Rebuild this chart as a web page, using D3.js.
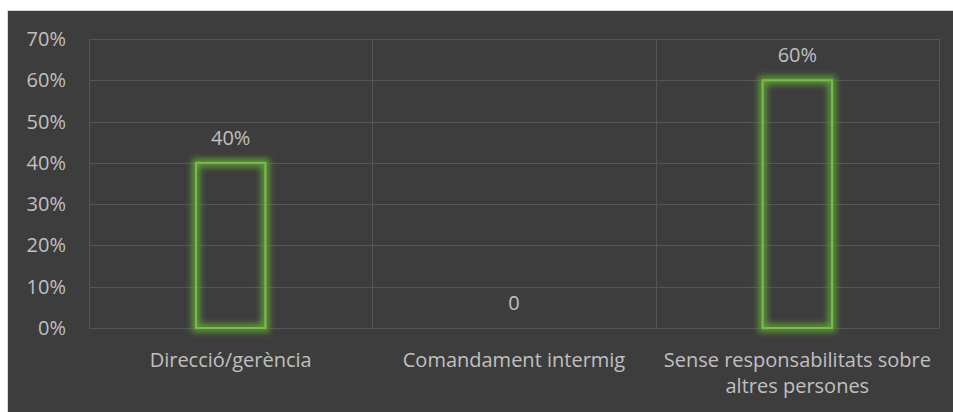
<!DOCTYPE html>
<html>
<head>
<meta charset="utf-8">
<script src="https://d3js.org/d3.v7.min.js"></script>
<style>
  body { margin: 0; background: #ffffff; }
  svg text { font-family: "Open Sans", "Noto Sans", sans-serif; fill: #c0c0c0; }
</style>
</head>
<body>
<svg id="chart" width="953" height="412"></svg>
<script>
// data
var categories = ["Direcció/gerència", "Comandament intermig", "Sense responsabilitats sobre altres persones"];
var values = [0.40, 0, 0.60];
var valueLabels = ["40%", "0", "60%"];
var yTicks = [0, 0.1, 0.2, 0.3, 0.4, 0.5, 0.6, 0.7];

var svg = d3.select("#chart");

/* dark panel */
svg.append("rect")
  .attr("x", 7.5).attr("y", 10.5)
  .attr("width", 960).attr("height", 420)
  .attr("fill", "#3d3d3d")
  .attr("stroke", "#d9d9d9").attr("stroke-width", 1);

/* glow filter for the bars */
var defs = svg.append("defs");
var f = defs.append("filter").attr("id", "glow")
  .attr("filterUnits", "userSpaceOnUse")
  .attr("x", 0).attr("y", 0).attr("width", 953).attr("height", 412);
f.append("feMorphology").attr("in", "SourceAlpha").attr("operator", "dilate").attr("radius", 3).attr("result", "thick");
f.append("feGaussianBlur").attr("in", "thick").attr("stdDeviation", 3).attr("result", "blur");
f.append("feFlood").attr("flood-color", "#5e9a36").attr("flood-opacity", 1);
f.append("feComposite").attr("in2", "blur").attr("operator", "in").attr("result", "halo");
var m = f.append("feMerge");
m.append("feMergeNode").attr("in", "halo");
m.append("feMergeNode").attr("in", "SourceGraphic");

var plotL = 89, plotR = 939, plotT = 39, plotB = 328;

var x = d3.scaleBand().domain(categories).range([plotL, plotR]);
var y = d3.scaleLinear().domain([0, 0.7]).range([plotB, plotT]);

/* horizontal gridlines */
svg.append("g").selectAll("line").data(yTicks).join("line")
  .attr("x1", plotL).attr("x2", plotR)
  .attr("y1", function(d) { return Math.round(y(d)) + 0.5; })
  .attr("y2", function(d) { return Math.round(y(d)) + 0.5; })
  .attr("stroke", "#565656").attr("stroke-width", 1);

/* vertical category gridlines */
var bounds = [plotL].concat(categories.map(function(c) { return x(c) + x.bandwidth(); }));
svg.append("g").selectAll("line").data(bounds).join("line")
  .attr("x1", function(d) { return Math.round(d) + 0.5; })
  .attr("x2", function(d) { return Math.round(d) + 0.5; })
  .attr("y1", plotT).attr("y2", plotB)
  .attr("stroke", "#565656").attr("stroke-width", 1);

/* y axis labels */
svg.append("g").selectAll("text").data(yTicks).join("text")
  .attr("x", 66)
  .attr("y", function(d) { return y(d); })
  .attr("dy", "0.35em")
  .attr("text-anchor", "end")
  .style("font-size", "20px")
  .text(d3.format(".0%"));

/* bars */
var barW = x.bandwidth() * 0.245;
svg.append("g").selectAll("rect").data(values).join("rect")
  .attr("x", function(d, i) { return x(categories[i]) + (x.bandwidth() - barW) / 2; })
  .attr("y", function(d) { return y(d); })
  .attr("width", barW)
  .attr("height", function(d) { return plotB - y(d); })
  .attr("fill", "none")
  .attr("stroke", "#78bc4c")
  .attr("stroke-width", 2)
  .attr("filter", "url(#glow)")
  .style("display", function(d) { return d > 0 ? null : "none"; });

/* value labels */
svg.append("g").selectAll("text").data(values).join("text")
  .attr("x", function(d, i) { return x(categories[i]) + x.bandwidth() / 2; })
  .attr("y", function(d) { return y(d) - 25; })
  .attr("dy", "0.35em")
  .attr("text-anchor", "middle")
  .style("font-size", "20px")
  .text(function(d, i) { return valueLabels[i]; });

/* category labels, wrapped to the band width */
categories.forEach(function(c) {
  var cx = x(c) + x.bandwidth() / 2;
  var t = svg.append("text")
    .attr("x", cx)
    .attr("y", 360)
    .attr("text-anchor", "middle")
    .style("font-size", "20px");
  var words = c.split(" "), line = [];
  var ts = t.append("tspan").attr("x", cx).attr("dy", "0.35em");
  words.forEach(function(wd) {
    line.push(wd);
    ts.text(line.join(" "));
    if (ts.node().getComputedTextLength() > x.bandwidth() - 4 && line.length > 1) {
      line.pop();
      ts.text(line.join(" "));
      line = [wd];
      ts = t.append("tspan").attr("x", cx).attr("dy", "26px").text(wd);
    }
  });
});
</script>
</body>
</html>
